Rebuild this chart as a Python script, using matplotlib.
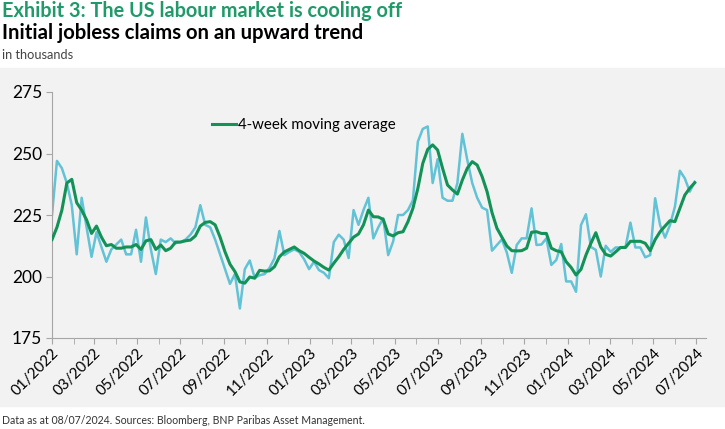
"""Exhibit 3: US initial jobless claims with 4-week moving average"""

import matplotlib.pyplot as plt
import matplotlib.dates as mdates
from matplotlib.patches import Rectangle
from matplotlib.lines import Line2D
import numpy as np

plt.rcParams['font.family'] = ['Lato', 'DejaVu Sans']

# weekly observations, first week ending 01/01/2022
start_date = '2022-01-01'

claims = [225, 247, 244, 238, 229, 209, 232, 220, 208, 218,
          212, 206, 211, 213, 215, 209, 209, 219, 206, 224,
          211, 201, 215, 214, 215.5, 213.5, 214, 215, 217, 220,
          229, 221, 220, 215, 209, 203, 197, 201, 187, 203,
          206.5, 199.5, 200.5, 201, 203.5, 207.4, 218.5, 208.7, 210, 211,
          210, 207, 203, 206, 202.6, 201.5, 199.3, 214, 217, 215,
          207.5, 227, 221, 227, 232, 215.5, 220, 223.7, 208.7, 214.2,
          225, 225, 227, 231, 254.8, 260, 261, 238, 247.7, 232,
          230.8, 230.8, 238, 258, 247.4, 238, 232, 228, 227, 210.5,
          212.8, 215.1, 209.7, 201.5, 212.8, 215.5, 215.5, 227.7, 212.8, 213,
          215.5, 204.7, 206.7, 213.2, 198, 198, 193.8, 220.9, 225.3, 212,
          210.8, 200, 212.5, 210, 211.8, 211.8, 212, 221.9, 211.8, 211.8,
          207.8, 208.7, 231.8, 220.9, 215.8, 220.9, 228.4, 243, 239.9, 234.5,
          238.5]

moving_avg = [215, 220, 227, 238, 239.5, 230, 227, 223, 217.5, 220.5,
              216, 212.5, 213, 211.5, 211.5, 212, 212, 213, 211, 214.5,
              215, 211, 212.8, 210.5, 211.5, 214, 214, 214.5, 214.8, 216.5,
              220.5, 222, 222.3, 221, 216, 210, 205, 202, 197.8, 197.3,
              199.8, 199.3, 202.5, 202.2, 202.3, 204, 208, 210, 211, 212,
              210.5, 209.4, 207.8, 206.3, 205.1, 203.7, 202.6, 205.4, 208, 211,
              213.5, 216, 217.3, 221, 227, 224.3, 224.2, 223.2, 217.3, 216.5,
              217.8, 218.2, 222.3, 227.7, 235.8, 246, 251.7, 253.5, 251.4, 244,
              237.2, 235.2, 233.5, 239.2, 244, 246.7, 245.3, 240.6, 234.5, 226,
              219.6, 216, 212.4, 210.5, 210.4, 210.5, 211.5, 218, 218.2, 217.5,
              217.5, 211.5, 210.5, 210, 206, 203.7, 200.6, 202.9, 208.7, 213.5,
              217.8, 212, 209, 208.3, 210, 211.8, 211.8, 214.3, 214.3, 214.3,
              213.5, 210.5, 215, 218.2, 220.5, 222.7, 222.3, 227.7, 233.1, 235.9,
              238.1]

y_ticks = [175, 200, 225, 250, 275]

weeks = np.datetime64(start_date) + np.arange(len(claims)) * np.timedelta64(7, 'D')
weeks = weeks.astype('datetime64[D]').astype(object)

W, H = 725, 429
fig = plt.figure(figsize=(W / 100, H / 100), dpi=100)

# grey panel behind the chart
fig.patches.append(Rectangle((0, 1 - 406 / H), 1, (406 - 68) / H,
                             transform=fig.transFigure, color='#f2f2f2', zorder=-5))

fig.text(2 / W, 1 - 11 / H, 'Exhibit 3: The US labour market is cooling off',
         color='#1f9a68', fontsize=14.3, fontweight='bold', va='center')
fig.text(2 / W, 1 - 33 / H, 'Initial jobless claims on an upward trend',
         color='black', fontsize=14.6, fontweight='bold', va='center')
fig.text(2 / W, 1 - 55 / H, 'in thousands', color='#444444', fontsize=9.2, va='center')
fig.text(2 / W, 1 - 420 / H,
         'Data as at 08/07/2024. Sources: Bloomberg, BNP Paribas Asset Management.',
         color='#333333', fontsize=7.6, va='center')

ax = fig.add_axes([52 / W, 1 - 338 / H, (706 - 52) / W, (338 - 92) / H])
ax.set_facecolor('none')

ax.plot(weeks, claims, color='#62c2d6', lw=1.8, zorder=2)
ax.plot(weeks, moving_avg, color='#139257', lw=2.2, zorder=3)

ax.set_ylim(175, 275)
ax.set_yticks(y_ticks)
ax.set_xlim(np.datetime64('2022-01-01').astype(object), np.datetime64('2024-07-15').astype(object))

ax.xaxis.set_major_locator(mdates.MonthLocator(bymonth=[1, 3, 5, 7, 9, 11]))
ax.xaxis.set_minor_locator(mdates.MonthLocator())
ax.xaxis.set_major_formatter(mdates.DateFormatter('%m/%Y'))

for s in ['top', 'right']:
    ax.spines[s].set_visible(False)
for s in ['left', 'bottom']:
    ax.spines[s].set_color('#a6a6a6')
    ax.spines[s].set_linewidth(0.8)

ax.tick_params(axis='y', labelsize=12.5, length=4, color='#a6a6a6', pad=3)
ax.tick_params(axis='x', which='both', labelsize=11, length=4, color='#a6a6a6', pad=2)
plt.setp(ax.get_xticklabels(), rotation=45, ha='right', rotation_mode='anchor')

ax.legend(handles=[Line2D([], [], color='#139257', lw=2.2)],
          labels=['4-week moving average'], loc='upper left',
          bbox_to_anchor=(146 / (706 - 52), 0.95), frameon=False,
          fontsize=10.8, handlelength=1.6, handletextpad=0.15)

fig.savefig('out.png', dpi=100)
